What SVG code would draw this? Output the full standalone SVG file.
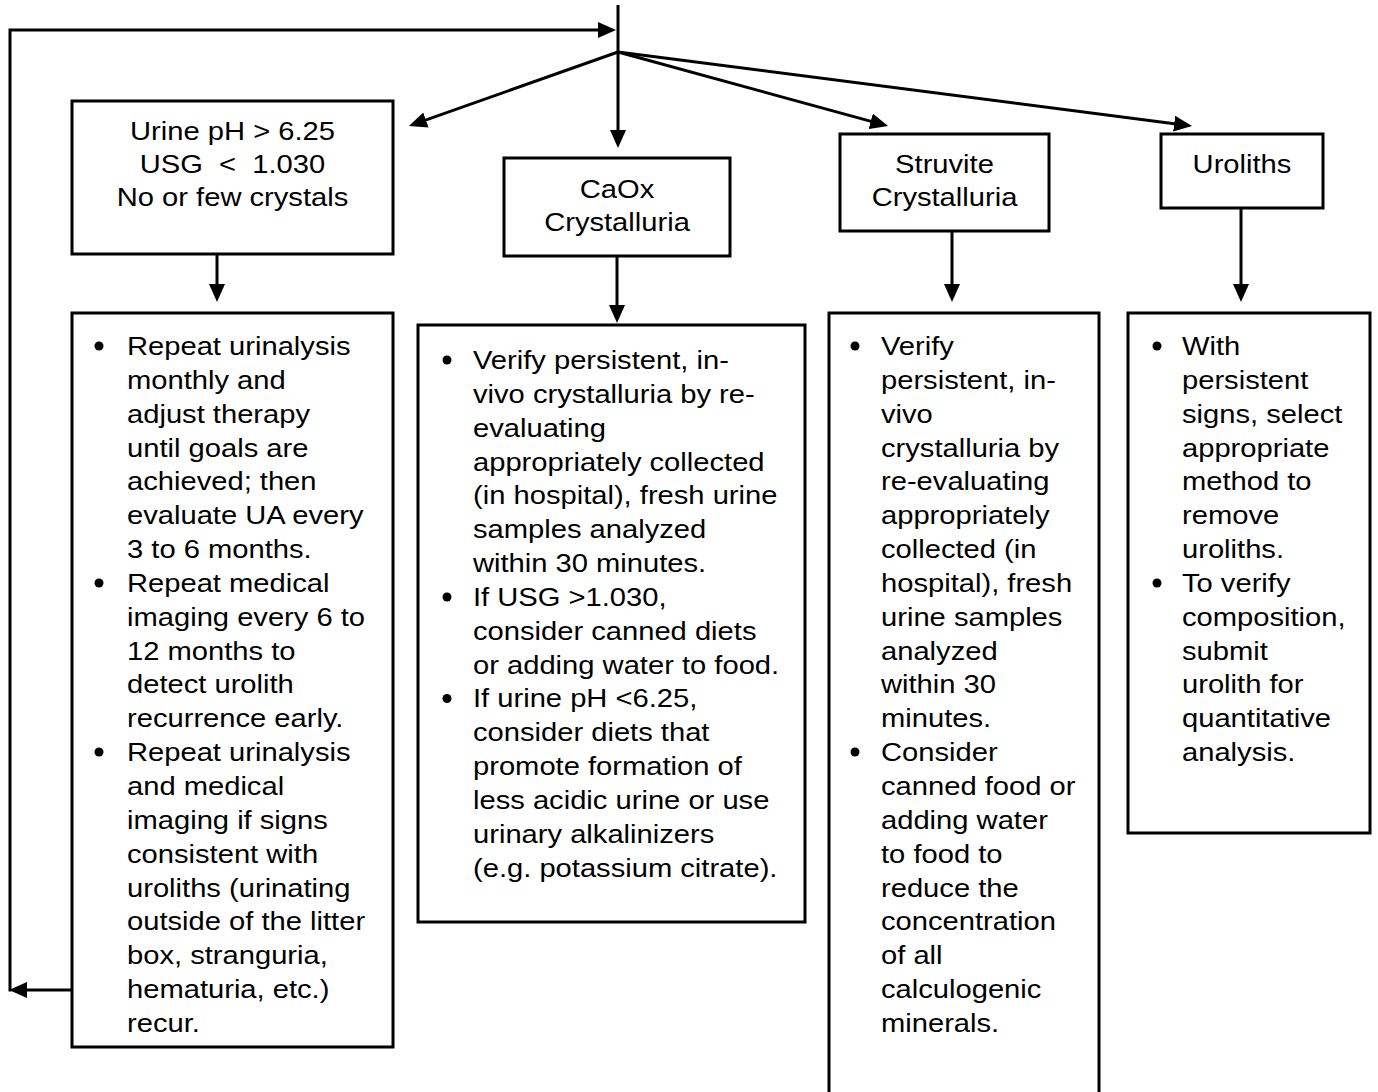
<svg xmlns="http://www.w3.org/2000/svg" width="1378" height="1092" viewBox="0 0 1378 1092">
<style>
.box{fill:#fff;stroke:#000;stroke-width:3}
.ln{fill:none;stroke:#000;stroke-width:3}
.t{font-family:"Liberation Sans",Arial,sans-serif;font-size:26.5px;fill:#000}
.c{text-anchor:middle}
.b{fill:#000}
</style>
<defs>
<marker id="ah" viewBox="0 0 18 16" refX="8" refY="8" markerWidth="18" markerHeight="16" markerUnits="userSpaceOnUse" orient="auto">
<path d="M0,0 L18,8 L0,16 Z" fill="#000"/>
</marker>
</defs>
<rect width="1378" height="1092" fill="#fff"/>
<g id="connectors">
<line class="ln" x1="618" y1="5" x2="618" y2="138" marker-end="url(#ah)"/>
<line class="ln" x1="618" y1="52" x2="418.4" y2="122.7" marker-end="url(#ah)"/>
<line class="ln" x1="618" y1="52" x2="878.4" y2="123.4" marker-end="url(#ah)"/>
<line class="ln" x1="618" y1="52" x2="1182.1" y2="124.7" marker-end="url(#ah)"/>
<path class="ln" d="M10,991.5 L10,30 L606,30" marker-end="url(#ah)"/>
<line class="ln" x1="72" y1="990" x2="19" y2="990" marker-end="url(#ah)"/>
<line class="ln" x1="217" y1="254" x2="217" y2="292" marker-end="url(#ah)"/>
<line class="ln" x1="617" y1="256" x2="617" y2="313" marker-end="url(#ah)"/>
<line class="ln" x1="952" y1="231" x2="952" y2="292" marker-end="url(#ah)"/>
<line class="ln" x1="1241" y1="208" x2="1241" y2="292" marker-end="url(#ah)"/>
</g>
<g id="nodeA">
<rect class="box" x="72" y="101" width="321" height="153"/>
<text class="t c" transform="translate(232.5,140) scale(1.1,1)" xml:space="preserve"><tspan x="0" dy="0">Urine pH &gt; 6.25</tspan><tspan x="0" dy="33">USG  &lt;  1.030</tspan><tspan x="0" dy="33">No or few crystals</tspan></text>
</g>
<g id="nodeB">
<rect class="box" x="504" y="158" width="226" height="98"/>
<text class="t c" transform="translate(617,198) scale(1.1,1)"><tspan x="0" dy="0">CaOx</tspan><tspan x="0" dy="33">Crystalluria</tspan></text>
</g>
<g id="nodeC">
<rect class="box" x="840" y="134" width="209" height="97"/>
<text class="t c" transform="translate(944.5,173) scale(1.1,1)"><tspan x="0" dy="0">Struvite</tspan><tspan x="0" dy="33">Crystalluria</tspan></text>
</g>
<g id="nodeD">
<rect class="box" x="1161" y="134" width="162" height="74"/>
<text class="t c" transform="translate(1242,173) scale(1.1,1)">Uroliths</text>
</g>
<g id="nodeA2">
<rect class="box" x="72" y="313" width="321" height="734"/>
<circle class="b" cx="99" cy="346" r="4.5"/>
<circle class="b" cx="99" cy="583" r="4.5"/>
<circle class="b" cx="99" cy="752" r="4.5"/>
<text class="t" transform="translate(127,355) scale(1.1,1)"><tspan x="0" dy="0">Repeat urinalysis</tspan><tspan x="0" dy="33.85">monthly and</tspan><tspan x="0" dy="33.85">adjust therapy</tspan><tspan x="0" dy="33.85">until goals are</tspan><tspan x="0" dy="33.85">achieved; then</tspan><tspan x="0" dy="33.85">evaluate UA every</tspan><tspan x="0" dy="33.85">3 to 6 months.</tspan><tspan x="0" dy="33.85">Repeat medical</tspan><tspan x="0" dy="33.85">imaging every 6 to</tspan><tspan x="0" dy="33.85">12 months to</tspan><tspan x="0" dy="33.85">detect urolith</tspan><tspan x="0" dy="33.85">recurrence early.</tspan><tspan x="0" dy="33.85">Repeat urinalysis</tspan><tspan x="0" dy="33.85">and medical</tspan><tspan x="0" dy="33.85">imaging if signs</tspan><tspan x="0" dy="33.85">consistent with</tspan><tspan x="0" dy="33.85">uroliths (urinating</tspan><tspan x="0" dy="33.85">outside of the litter</tspan><tspan x="0" dy="33.85">box, stranguria,</tspan><tspan x="0" dy="33.85">hematuria, etc.)</tspan><tspan x="0" dy="33.85">recur.</tspan></text>
</g>
<g id="nodeB2">
<rect class="box" x="418" y="325" width="387" height="597"/>
<circle class="b" cx="447" cy="360" r="4.5"/>
<circle class="b" cx="447" cy="597" r="4.5"/>
<circle class="b" cx="447" cy="698.5" r="4.5"/>
<text class="t" transform="translate(473,369) scale(1.1,1)"><tspan x="0" dy="0">Verify persistent, in-</tspan><tspan x="0" dy="33.85">vivo crystalluria by re-</tspan><tspan x="0" dy="33.85">evaluating</tspan><tspan x="0" dy="33.85">appropriately collected</tspan><tspan x="0" dy="33.85">(in hospital), fresh urine</tspan><tspan x="0" dy="33.85">samples analyzed</tspan><tspan x="0" dy="33.85">within 30 minutes.</tspan><tspan x="0" dy="33.85">If USG &gt;1.030,</tspan><tspan x="0" dy="33.85">consider canned diets</tspan><tspan x="0" dy="33.85">or adding water to food.</tspan><tspan x="0" dy="33.85">If urine pH &lt;6.25,</tspan><tspan x="0" dy="33.85">consider diets that</tspan><tspan x="0" dy="33.85">promote formation of</tspan><tspan x="0" dy="33.85">less acidic urine or use</tspan><tspan x="0" dy="33.85">urinary alkalinizers</tspan><tspan x="0" dy="33.85">(e.g. potassium citrate).</tspan></text>
</g>
<g id="nodeC2">
<rect class="box" x="829" y="313" width="270" height="790"/>
<circle class="b" cx="855" cy="346" r="4.5"/>
<circle class="b" cx="855" cy="752" r="4.5"/>
<text class="t" transform="translate(881,355) scale(1.1,1)"><tspan x="0" dy="0">Verify</tspan><tspan x="0" dy="33.85">persistent, in-</tspan><tspan x="0" dy="33.85">vivo</tspan><tspan x="0" dy="33.85">crystalluria by</tspan><tspan x="0" dy="33.85">re-evaluating</tspan><tspan x="0" dy="33.85">appropriately</tspan><tspan x="0" dy="33.85">collected (in</tspan><tspan x="0" dy="33.85">hospital), fresh</tspan><tspan x="0" dy="33.85">urine samples</tspan><tspan x="0" dy="33.85">analyzed</tspan><tspan x="0" dy="33.85">within 30</tspan><tspan x="0" dy="33.85">minutes.</tspan><tspan x="0" dy="33.85">Consider</tspan><tspan x="0" dy="33.85">canned food or</tspan><tspan x="0" dy="33.85">adding water</tspan><tspan x="0" dy="33.85">to food to</tspan><tspan x="0" dy="33.85">reduce the</tspan><tspan x="0" dy="33.85">concentration</tspan><tspan x="0" dy="33.85">of all</tspan><tspan x="0" dy="33.85">calculogenic</tspan><tspan x="0" dy="33.85">minerals.</tspan></text>
</g>
<g id="nodeD2">
<rect class="box" x="1128" y="313" width="242" height="520"/>
<circle class="b" cx="1157" cy="346" r="4.5"/>
<circle class="b" cx="1157" cy="583" r="4.5"/>
<text class="t" transform="translate(1182,355) scale(1.1,1)"><tspan x="0" dy="0">With</tspan><tspan x="0" dy="33.85">persistent</tspan><tspan x="0" dy="33.85">signs, select</tspan><tspan x="0" dy="33.85">appropriate</tspan><tspan x="0" dy="33.85">method to</tspan><tspan x="0" dy="33.85">remove</tspan><tspan x="0" dy="33.85">uroliths.</tspan><tspan x="0" dy="33.85">To verify</tspan><tspan x="0" dy="33.85">composition,</tspan><tspan x="0" dy="33.85">submit</tspan><tspan x="0" dy="33.85">urolith for</tspan><tspan x="0" dy="33.85">quantitative</tspan><tspan x="0" dy="33.85">analysis.</tspan></text>
</g>
</svg>
